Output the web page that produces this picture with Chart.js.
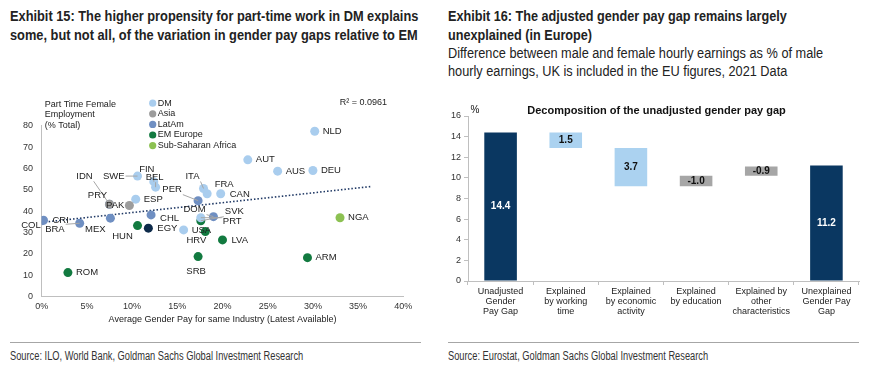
<!DOCTYPE html>
<html lang="en">
<head>
  <meta charset="UTF-8" />
  <title>Gender pay gap exhibits</title>
  <style>
    * {
      margin: 0;
      padding: 0;
      box-sizing: border-box;
    }

    body {
      width: 873px;
      height: 372px;
      background: #fff;
      position: relative;
      overflow: hidden;
      font-family: "Liberation Sans", Arial, sans-serif;
      color: #222;
    }

    /* Headers and sources: Arial squeezed to the narrow print face (see fitText) */
    .narrow {
      transform-origin: 0 0;
    }

    .title {
      position: absolute;
      top: 6px;
      font-size: 15px;
      line-height: 19px;
      font-weight: bold;
      color: #222;
      white-space: nowrap;
    }

    .subtitle {
      position: absolute;
      top: 44px;
      font-size: 14px;
      line-height: 18px;
      color: #222;
      white-space: nowrap;
    }

    .rule {
      position: absolute;
      top: 342px;
      height: 0;
      border-top: 1px solid #a6a6a6;
    }

    .source {
      position: absolute;
      top: 349px;
      font-size: 12px;
      line-height: 14px;
      color: #333;
      white-space: nowrap;
    }

    .chart-box {
      position: absolute;
    }
  </style>
</head>
<body>
  <!-- Exhibit 15 -->
  <div class="title narrow" data-fit="408" style="left:10px;">Exhibit 15: The higher propensity for part-time work in DM explains<br>some, but not all, of the variation in gender pay gaps relative to EM</div>
  <div class="chart-box" style="left:0; top:88px; width:435px; height:245px;">
    <canvas id="scatterChart"></canvas>
  </div>
  <div class="rule" style="left:10px; width:411px;"></div>
  <div class="source narrow" data-fit="293" style="left:10px;">Source: ILO, World Bank, Goldman Sachs Global Investment Research</div>

  <!-- Exhibit 16 -->
  <div class="title narrow" data-fit="339" style="left:448px;">Exhibit 16: The adjusted gender pay gap remains largely<br>unexplained (in Europe)</div>
  <div class="subtitle narrow" data-fit="375" style="left:448px;">Difference between male and female hourly earnings as % of male<br>hourly earnings, UK is included in the EU figures, 2021 Data</div>
  <div class="chart-box" style="left:440px; top:95px; width:433px; height:240px;">
    <canvas id="gapChart"></canvas>
  </div>
  <div class="rule" style="left:448px; width:411px;"></div>
  <div class="source narrow" data-fit="260" style="left:448px;">Source: Eurostat, Goldman Sachs Global Investment Research</div>

  <script src="https://cdn.jsdelivr.net/npm/chart.js"></script>

  <script>
    // ================================
    // Data: Exhibit 15 (scatter)
    // ================================
    const countries = ['COL', 'CRI', 'BRA', 'MEX', 'IDN', 'PRY', 'PAK', 'ESP', 'SWE', 'FIN', 'BEL',
                       'CHL', 'EGY', 'HUN', 'ROM', 'USA', 'HRV', 'LVA', 'SRB', 'DOM', 'SVK', 'PRT',
                       'PER', 'ITA', 'FRA', 'CAN', 'AUT', 'AUS', 'DEU', 'NLD', 'NGA', 'ARM'];
    // Average gender pay gap for same industry (%)
    const payGap = [0.0, 0.2, 4.2, 7.6, 7.5, 7.5, 9.7, 10.4, 10.6, 12.4, 12.6,
                    12.1, 11.8, 10.6, 2.9, 15.7, 18.1, 20.0, 17.3, 19.0, 17.6, 17.6,
                    17.3, 17.9, 18.3, 19.8, 22.8, 26.1, 30.0, 30.2, 33.0, 29.4];
    // Part time female employment (% total)
    const partTime = [35.5, 35.7, 34.3, 36.7, 43.2, 43.2, 42.6, 45.6, 56.4, 53.8, 51.2,
                      38.2, 32.0, 33.2, 11.2, 31.2, 30.4, 26.5, 18.7, 37.4, 35.5, 36.9,
                      44.9, 50.6, 48.1, 48.1, 64.0, 58.7, 59.0, 77.4, 36.9, 18.2];
    const region = ['LatAm', 'LatAm', 'LatAm', 'LatAm', 'Asia', 'LatAm', 'Asia', 'DM', 'DM', 'DM', 'DM',
                    'LatAm', 'Other', 'EM Europe', 'EM Europe', 'DM', 'EM Europe', 'EM Europe', 'EM Europe', 'LatAm', 'EM Europe', 'DM',
                    'LatAm', 'DM', 'DM', 'DM', 'DM', 'DM', 'DM', 'DM', 'Sub-Saharan Africa', 'EM Europe'];
    const legendRegions = ['DM', 'Asia', 'LatAm', 'EM Europe', 'Sub-Saharan Africa'];
    // Linear trend end points
    const trendX = [0, 36.4];
    const trendY = [34.7, 51.5];
    const rSquared = 'R\u00B2 = 0.0961';

    // ================================
    // Data: Exhibit 16 (waterfall)
    // ================================
    const gapCategories = [
      ['Unadjusted', 'Gender', 'Pay Gap'],
      ['Explained', 'by working', 'time'],
      ['Explained', 'by economic', 'activity'],
      ['Explained', 'by education'],
      ['Explained by', 'other', 'characteristics'],
      ['Unexplained', 'Gender Pay', 'Gap']
    ];
    const gapValues = [14.4, 1.5, 3.7, -1.0, -0.9, 11.2];
    const gapKinds = ['total', 'step', 'step', 'step', 'step', 'total'];

    // squeeze header / source blocks to the printed width
    document.querySelectorAll('[data-fit]').forEach(el => {
      el.style.transform = 'scaleX(' + (el.dataset.fit / el.scrollWidth) + ')';
    });

    // ================================
    // Styles
    // ================================
    const FONT = '"Liberation Sans", Arial, sans-serif';
    Chart.defaults.font.family = FONT;
    Chart.defaults.color = '#222';

    const regionColors = {
      'DM': '#a9cdee',
      'Asia': '#9c9c9c',
      'LatAm': '#6f8fc2',
      'EM Europe': '#127a40',
      'Sub-Saharan Africa': '#8cc152',
      'Other': '#0d2a4a'
    };
    const drawOrder = ['Asia', 'DM', 'LatAm', 'EM Europe', 'Sub-Saharan Africa', 'Other'];

    // label placement: [dx, dy, align, leader line]
    const labelPlacement = {
      COL: [-1, 5, 'right'], CRI: [9, 0, 'left'], BRA: [-15, 6, 'right', true], MEX: [-15, 11, 'center'],
      IDN: [-25, -28, 'center', true], PRY: [-12, -9, 'center'], PAK: [-5, 0, 'right'], ESP: [8, 0, 'left'],
      SWE: [-13, 0, 'right', true], FIN: [-7, -12, 'center', true], BEL: [-1, -10, 'center', true],
      CHL: [9, 3, 'left'], EGY: [9, 0, 'left'], HUN: [-15, 11, 'center'], ROM: [8, 0, 'left'],
      USA: [8, 0, 'left'], HRV: [-9, 9, 'center'], LVA: [9, 0, 'left'], SRB: [-2, 15, 'center'],
      DOM: [-19, -7, 'center', true], SVK: [24, -9, 'left', true], PRT: [22, 4, 'left', true],
      PER: [-26, -11, 'center', true], ITA: [-11, -12, 'center', true], FRA: [17, -9, 'center'],
      CAN: [9, 1, 'left'], AUT: [8, 0, 'left'], AUS: [8, 0, 'left'], DEU: [8, 0, 'left'],
      NLD: [8, 0, 'left'], NGA: [8, 0, 'left'], ARM: [8, 0, 'left']
    };

    // ================================
    // 1. Scatter chart
    // ================================
    const scatterSets = drawOrder.map(r => ({
      label: r,
      data: countries.map((c, i) => ({ x: payGap[i], y: partTime[i], name: c })).filter((p, i) => region[i] === r),
      backgroundColor: regionColors[r],
      borderColor: regionColors[r],
      borderWidth: 0,
      pointRadius: 4.5
    }));

    scatterSets.push({
      type: 'line',
      label: 'Trend',
      data: trendX.map((x, i) => ({ x: x, y: trendY[i] })),
      borderColor: '#1f3864',
      borderWidth: 1.6,
      borderDash: [1.5, 2],
      pointRadius: 0,
      fill: false
    });

    const scatterLabels = {
      id: 'scatterLabels',
      afterDatasetsDraw(chart) {
        const { ctx, scales, chartArea } = chart;
        ctx.save();
        ctx.font = '9.5px ' + FONT;
        ctx.textBaseline = 'middle';

        countries.forEach((c, i) => {
          const px = scales.x.getPixelForValue(payGap[i]);
          const py = scales.y.getPixelForValue(partTime[i]);
          const [dx, dy, align, leader] = labelPlacement[c];
          const lx = px + dx;
          const ly = py + dy;
          const w = ctx.measureText(c).width;
          const left = align === 'left' ? lx : align === 'right' ? lx - w : lx - w / 2;
          if (leader) {
            const cx = Math.min(Math.max(px, left - 1), left + w + 1);
            const cy = Math.min(Math.max(py, ly - 5), ly + 5);
            ctx.strokeStyle = '#a6a6a6';
            ctx.lineWidth = 1;
            ctx.beginPath();
            ctx.moveTo(cx, cy);
            ctx.lineTo(px, py);
            ctx.stroke();
          }
          ctx.fillStyle = '#222';
          ctx.textAlign = 'left';
          ctx.fillText(c, left, ly);
        });

        // y axis title, above the plot
        ctx.font = '9px ' + FONT;
        ctx.textAlign = 'left';
        ['Part Time Female', 'Employment', '(% Total)'].forEach((t, k) => {
          ctx.fillText(t, chartArea.left + 3, chartArea.top - 21.5 + k * 10.5);
        });

        // legend
        legendRegions.forEach((r, k) => {
          const y = chartArea.top - 22.5 + k * 10.6;
          ctx.fillStyle = regionColors[r];
          ctx.beginPath();
          ctx.arc(chartArea.left + 111, y, 3.6, 0, Math.PI * 2);
          ctx.fill();
          ctx.fillStyle = '#222';
          ctx.fillText(r, chartArea.left + 116, y);
        });

        // R squared
        ctx.textAlign = 'center';
        ctx.fillText(rSquared, chartArea.left + 321.6, chartArea.top - 23);
        ctx.restore();
      }
    };

    const scatterChart = new Chart(document.getElementById('scatterChart'), {
      type: 'scatter',
      data: { datasets: scatterSets },
      options: {
        responsive: true,
        maintainAspectRatio: false,
        animation: false,
        layout: { padding: { top: 37.7, right: 31.7, left: 0, bottom: 0 } },
        plugins: {
          legend: { display: false },
          tooltip: { enabled: false }
        },
        scales: {
          x: {
            type: 'linear',
            min: 0,
            max: 40,
            ticks: {
              stepSize: 5,
              padding: 5,
              color: '#333',
              font: { size: 9 },
              callback: v => v + '%'
            },
            grid: { display: false, drawTicks: false },
            border: { color: '#bfbfbf' },
            title: {
              display: true,
              text: 'Average Gender Pay for same Industry (Latest Available)',
              color: '#222',
              font: { size: 9 },
              padding: { top: 0, bottom: 8.5 }
            },
            afterFit: s => { s.height = 36.5; }
          },
          y: {
            min: 0,
            max: 80,
            ticks: { stepSize: 10, padding: 8.7, color: '#333', font: { size: 9 } },
            grid: { display: false, drawTicks: false },
            border: { color: '#bfbfbf' },
            afterFit: s => { s.width = 41.7; }
          }
        }
      },
      plugins: [scatterLabels]
    });

    // ================================
    // 2. Waterfall chart
    // ================================
    let running = 0;
    const gapBars = gapValues.map((v, i) => {
      if (gapKinds[i] === 'total') {
        running = v;
        return [0, v];
      }
      const start = running;
      running = start - v;
      return [Math.min(start, running), Math.max(start, running)];
    });
    const gapColors = gapValues.map((v, i) =>
      gapKinds[i] === 'total' ? '#0a3761' : (v >= 0 ? '#abd2f0' : '#a6a6a6'));

    const gapDecor = {
      id: 'gapDecor',
      afterDatasetsDraw(chart) {
        const { ctx, chartArea } = chart;
        const meta = chart.getDatasetMeta(0);
        ctx.save();
        ctx.textAlign = 'center';
        ctx.textBaseline = 'middle';
        ctx.font = 'bold 10px ' + FONT;
        meta.data.forEach((bar, i) => {
          ctx.fillStyle = gapKinds[i] === 'total' ? '#fff' : '#111';
          ctx.fillText(gapValues[i].toFixed(1), bar.x, (bar.y + bar.base) / 2);
        });

        // chart title and unit
        ctx.fillStyle = '#111';
        ctx.font = 'bold 11px ' + FONT;
        ctx.fillText('Decomposition of the unadjusted gender pay gap', chart.width / 2, 15.5);
        ctx.font = '10px ' + FONT;
        ctx.fillText('%', chartArea.left + 7, 15.5);
        ctx.restore();
      }
    };

    const gapChart = new Chart(document.getElementById('gapChart'), {
      type: 'bar',
      data: {
        labels: gapCategories,
        datasets: [{
          data: gapBars,
          backgroundColor: gapColors,
          barPercentage: 0.5,
          categoryPercentage: 1
        }]
      },
      options: {
        responsive: true,
        maintainAspectRatio: false,
        animation: false,
        layout: { padding: { top: 21, right: 14, left: 0, bottom: 0 } },
        plugins: {
          legend: { display: false },
          tooltip: { enabled: false }
        },
        scales: {
          x: {
            grid: { offset: true, drawOnChartArea: false, tickLength: 4, color: '#bfbfbf' },
            border: { color: '#bfbfbf' },
            ticks: {
              padding: 1,
              maxRotation: 0,
              autoSkip: false,
              color: '#222',
              font: { size: 9, lineHeight: 1.15 }
            },
            afterFit: s => { s.height = 54; }
          },
          y: {
            min: 0,
            max: 16,
            ticks: { stepSize: 2, padding: 3, color: '#333', font: { size: 9 } },
            grid: { drawOnChartArea: false, tickLength: 4, color: '#bfbfbf' },
            border: { color: '#bfbfbf' },
            afterFit: s => { s.width = 28; }
          }
        }
      },
      plugins: [gapDecor]
    });
  </script>
</body>
</html>
